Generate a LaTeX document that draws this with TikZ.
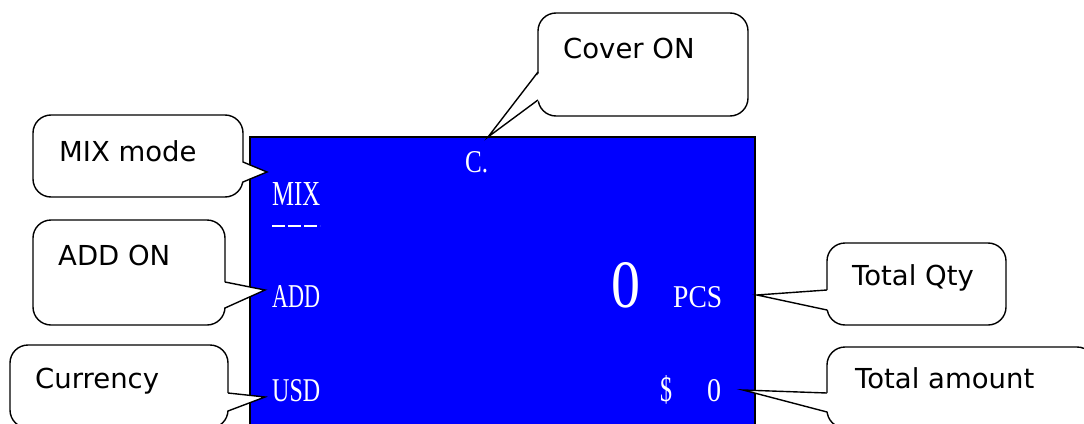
\documentclass[tikz,border=0pt]{standalone}
\usepackage{fontspec}
\usepackage{graphicx}
\setmainfont{Liberation Serif}
\newfontfamily\calfont{DejaVu Sans}
\definecolor{lcdblue}{RGB}{0,0,255}
\tikzset{
  callbox/.style={draw=black, line width=1.4pt, fill=white, rounded corners=18pt},
  wedgefill/.style={fill=white},
  wedgeline/.style={draw=black, line width=1.4pt, line join=miter},
  caltext/.style={anchor=base west, inner sep=0pt, font=\calfont\fontsize{27.5}{33}\selectfont, text=black},
  lcdtext/.style={anchor=south west, inner sep=0pt, text=white, font=\rmfamily},
}
\begin{document}
\begin{tikzpicture}[x=1pt,y=-1pt]
\clip (0,0) rectangle (1084,423);
\fill[white] (0,0) rectangle (1084,423);
% LCD screen
\draw[fill=lcdblue, line width=2pt] (250,137) rectangle (755,440);
% wedge tips
\coordinate (t1) at (488,137);
\coordinate (t2) at (267,172);
\coordinate (t3) at (265,290);
\coordinate (t4) at (265,397);
\coordinate (t5) at (757,295);
\coordinate (t6) at (743,390);
% Cover ON
\draw[callbox] (538,13) rectangle (748,116);
\fill[wedgefill] (540,72) -- (t1) -- (540,100) -- cycle;
\draw[wedgeline] (538,72) -- (t1) -- (538,100);
% MIX mode
\draw[callbox] (33,115) rectangle (243,197);
\fill[wedgefill] (241,162) -- (t2) -- (241,182) -- cycle;
\draw[wedgeline] (243,162) -- (t2) -- (243,182);
% ADD ON
\draw[callbox] (33,220) rectangle (225,325);
\fill[wedgefill] (223,282) -- (t3) -- (223,308) -- cycle;
\draw[wedgeline] (225,282) -- (t3) -- (225,308);
% Currency
\draw[callbox] (10,345) rectangle (228,428);
\fill[wedgefill] (226,393) -- (t4) -- (226,411) -- cycle;
\draw[wedgeline] (228,393) -- (t4) -- (228,411);
% Total Qty
\draw[callbox] (827,243) rectangle (1006,325);
\fill[wedgefill] (829,290) -- (t5) -- (829,310) -- cycle;
\draw[wedgeline] (827,290) -- (t5) -- (827,310);
% Total amount
\draw[callbox] (827,347) rectangle (1095,428);
\fill[wedgefill] (829,393) -- (t6) -- (829,412) -- cycle;
\draw[wedgeline] (827,393) -- (t6) -- (827,412);
% callout texts
\node[caltext] (cover) at (563,58) {Cover ON};
\node[caltext] (mixm) at (59,161) {MIX mode};
\node[caltext] (addon) at (58,265) {ADD ON};
\node[caltext] (cur) at (35,388) {Currency};
\node[caltext] (tq) at (852,285) {Total Qty};
\node[caltext] (ta) at (855,388) {Total amount};
% LCD texts
\node[lcdtext] (c) at (465,173) {\resizebox{23pt}{21pt}{C.}};
\node[lcdtext] (mix) at (272,206) {\resizebox{48pt}{23pt}{MIX}};
\draw[white, line width=2pt, dash pattern=on 13pt off 3pt] (272,226) -- (320,226);
\node[lcdtext] (add) at (272,308) {\resizebox{48pt}{22pt}{ADD}};
\node[lcdtext] (usd) at (272,402) {\resizebox{48pt}{22pt}{USD}};
\node[lcdtext] (zero) at (611,308) {\resizebox{29pt}{45pt}{0}};
\node[lcdtext] (pcs) at (673,308) {\resizebox{49pt}{21pt}{PCS}};
\node[lcdtext] (dol) at (660,404) {\resizebox{12pt}{26pt}{\$}};
\node[lcdtext] (amt) at (707,402) {\resizebox{14pt}{22pt}{0}};
\end{tikzpicture}
\end{document}
